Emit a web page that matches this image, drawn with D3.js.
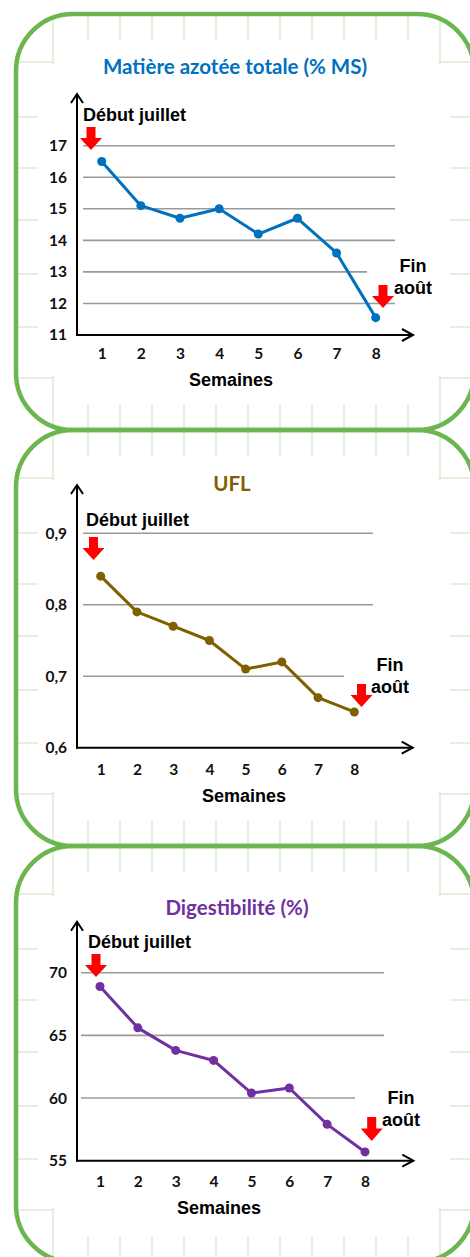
<!DOCTYPE html>
<html>
<head>
<meta charset="utf-8">
<script src="https://cdn.jsdelivr.net/npm/d3@7"></script>
<style>
  html, body { margin: 0; padding: 0; background: #fff; }
  svg { display: block; }
</style>
</head>
<body>
<div id="chart"></div>
<script>
// Data
var weeks = [1, 2, 3, 4, 5, 6, 7, 8];
var matiereValues = [16.5, 15.1, 14.7, 15.0, 14.2, 14.7, 13.6, 11.55];
var uflValues = [0.84, 0.79, 0.77, 0.75, 0.71, 0.72, 0.67, 0.65];
var digestValues = [68.9, 65.6, 63.8, 63.0, 60.4, 60.8, 57.9, 55.7];
var matiereTicks = [11, 12, 13, 14, 15, 16, 17];
var uflTicks = [0.6, 0.7, 0.8, 0.9];
var digestTicks = [55, 60, 65, 70];
var titles = ["Matière azotée totale (% MS)", "UFL", "Digestibilité (%)"];
var startLabel = "Début juillet";
var endLabel = ["Fin", "août"];
var xLabel = "Semaines";

var W = 470, H = 1257;
var frFormat = d3.formatLocale({ decimal: ",", thousands: " ", grouping: [3], currency: ["", "€"] });

// layout for each panel
var charts = [
  { title: titles[0], color: "#0070C0", values: matiereValues, ticks: matiereTicks, fmt: d3.format("d"),
    top: 14, yDomain: [11, 17], yRange: [335, 145.7], xRange: [101.7, 375.7], arrowTop: 94,
    gridStart: 83, gridEnd: 395, shortTick: 13, shortEnd: 367, axisEnd: 413,
    tickY: 354, semX: 231, semY: 380, titleX: 235, titleY: 67,
    debutX: 83, debutY: 115, a1: [91, 127, 150], finX: 413, finY: 266, a2: [383, 285, 308] },
  { title: titles[1], color: "#7F6000", values: uflValues, ticks: uflTicks, fmt: frFormat.format(".1f"),
    top: 430, yDomain: [0.6, 0.9], yRange: [747.7, 533.3], xRange: [100.7, 354.3], arrowTop: 485,
    gridStart: 83, gridEnd: 373, shortTick: 0.7, shortEnd: 344, axisEnd: 412.7,
    tickY: 770, semX: 244, semY: 796, titleX: 232, titleY: 484,
    debutX: 86, debutY: 520, a1: [93.5, 537, 560], finX: 390, finY: 665, a2: [361.5, 684, 707] },
  { title: titles[2], color: "#7030A0", values: digestValues, ticks: digestTicks, fmt: d3.format("d"),
    top: 846, yDomain: [55, 70], yRange: [1160.7, 972.7], xRange: [100, 365], arrowTop: 921.7,
    gridStart: 81, gridEnd: 384, shortTick: 60, shortEnd: 355, axisEnd: 413.3,
    tickY: 1181.7, semX: 219, semY: 1208, titleX: 237, titleY: 908,
    debutX: 88, debutY: 942, a1: [96, 954, 977], finX: 401, finY: 1098, a2: [371.7, 1117, 1141] }
];

var panelX = 16, panelW = 458, panelH = 416, panelR = 57;
var yAxisX = 77;

var svg = d3.select("#chart").append("svg")
  .attr("width", W).attr("height", H);

// clip for the background grid: union of the panels
var clip = svg.append("defs").append("clipPath").attr("id", "panels");
charts.forEach(function (c) {
  clip.append("rect").attr("x", panelX).attr("y", c.top)
    .attr("width", panelW).attr("height", panelH).attr("rx", panelR);
});

// light green graph-paper background
var bg = svg.append("g").attr("clip-path", "url(#panels)")
  .attr("stroke", "#E3F0DB").attr("stroke-width", 2);
var gridXs = [53, 88, 120, 152, 184, 216, 248, 280, 312, 344, 376, 408, 440];
gridXs.forEach(function (gx) {
  bg.append("line").attr("x1", gx).attr("x2", gx).attr("y1", 0).attr("y2", H);
});
var rowOffsets = [48, 103, 154, 206, 260, 313, 364];
charts.forEach(function (c) {
  rowOffsets.forEach(function (o) {
    bg.append("line").attr("x1", 0).attr("x2", W).attr("y1", c.top + o).attr("y2", c.top + o);
  });
});

// white inner area of each panel
charts.forEach(function (c) {
  svg.append("rect").attr("x", 55).attr("y", c.top + 26).attr("width", 383).attr("height", 365).attr("fill", "#fff");
  svg.append("rect").attr("x", 38).attr("y", c.top + 50).attr("width", 412).attr("height", 312).attr("fill", "#fff");
});

// green borders
charts.forEach(function (c) {
  svg.append("rect").attr("x", panelX).attr("y", c.top)
    .attr("width", panelW).attr("height", panelH).attr("rx", panelR)
    .attr("fill", "none").attr("stroke", "#6CB651").attr("stroke-width", 4.5);
});

function redArrow(g, a) {
  var cx = a[0], t = a[1], b = a[2];
  var sh = t + (b - t) * 0.48;
  var pts = [[cx - 4.5, t], [cx + 4.5, t], [cx + 4.5, sh], [cx + 11, sh], [cx, b], [cx - 11, sh], [cx - 4.5, sh]];
  g.append("path").attr("d", d3.line()(pts) + "Z").attr("fill", "#FF0000");
}

charts.forEach(function (c) {
  var g = svg.append("g");
  var x = d3.scaleLinear().domain([1, 8]).range(c.xRange);
  var y = d3.scaleLinear().domain(c.yDomain).range(c.yRange);
  var axisY = y(c.yDomain[0]);

  // horizontal gridlines
  g.selectAll(".grid").data(c.ticks.slice(1)).enter().append("line")
    .attr("x1", c.gridStart)
    .attr("x2", function (d) { return Math.abs(d - c.shortTick) < 1e-9 ? c.shortEnd : c.gridEnd; })
    .attr("y1", function (d) { return y(d); })
    .attr("y2", function (d) { return y(d); })
    .attr("stroke", "#9A9A9A").attr("stroke-width", 1.6);

  // title
  g.append("text").attr("x", c.titleX).attr("y", c.titleY).attr("dy", "0.35em")
    .attr("text-anchor", "middle").attr("fill", c.color)
    .style("font-family", "Lato, 'Open Sans', sans-serif").style("font-weight", "bold").style("font-size", "20.5px")
    .text(c.title);

  // y tick labels
  var ya = g.append("g").attr("transform", "translate(67,0)")
    .call(d3.axisLeft(y).tickValues(c.ticks).tickFormat(c.fmt).tickSize(0).tickPadding(0));
  ya.select(".domain").remove();
  ya.selectAll("text").attr("fill", "#111")
    .style("font-family", "Lato, 'Open Sans', sans-serif").style("font-weight", "bold").style("font-size", "15.5px");

  // x tick labels
  var xa = g.append("g").attr("transform", "translate(0," + c.tickY + ")")
    .call(d3.axisBottom(x).tickValues(weeks).tickFormat(d3.format("d")).tickSize(0).tickPadding(0));
  xa.select(".domain").remove();
  xa.selectAll("text").attr("y", 0).attr("dy", "0.35em").attr("fill", "#111")
    .style("font-family", "Lato, 'Open Sans', sans-serif").style("font-weight", "bold").style("font-size", "15.5px");

  // axes with arrow heads
  var ax = g.append("g").attr("stroke", "#000").attr("stroke-width", 2).attr("fill", "none");
  ax.append("path").attr("d", d3.line()([[yAxisX, axisY + 1], [yAxisX, c.arrowTop]]));
  ax.append("path").attr("d", d3.line()([[yAxisX - 6, c.arrowTop + 9], [yAxisX, c.arrowTop], [yAxisX + 6, c.arrowTop + 9]]));
  ax.append("path").attr("d", d3.line()([[yAxisX - 1, axisY], [c.axisEnd, axisY]]));
  ax.append("path").attr("d", d3.line()([[c.axisEnd - 11, axisY - 6], [c.axisEnd, axisY], [c.axisEnd - 11, axisY + 6]]));

  // series
  var line = d3.line().x(function (d, i) { return x(weeks[i]); }).y(function (d) { return y(d); });
  g.append("path").datum(c.values).attr("d", line)
    .attr("fill", "none").attr("stroke", c.color).attr("stroke-width", 3).attr("stroke-linejoin", "round");
  g.selectAll(".pt").data(c.values).enter().append("circle")
    .attr("cx", function (d, i) { return x(weeks[i]); })
    .attr("cy", function (d) { return y(d); })
    .attr("r", 4.5).attr("fill", c.color);

  // annotations
  var lab = "'Liberation Sans', Arial, sans-serif";
  g.append("text").attr("x", c.debutX).attr("y", c.debutY).attr("dy", "0.35em")
    .style("font-family", lab).style("font-weight", "bold").style("font-size", "18px").attr("fill", "#000")
    .text(startLabel);
  redArrow(g, c.a1);
  g.append("text").attr("x", c.finX).attr("y", c.finY).attr("dy", "0.35em").attr("text-anchor", "middle")
    .style("font-family", lab).style("font-weight", "bold").style("font-size", "18px").attr("fill", "#000")
    .text(endLabel[0]);
  g.append("text").attr("x", c.finX).attr("y", c.finY + 22).attr("dy", "0.35em").attr("text-anchor", "middle")
    .style("font-family", lab).style("font-weight", "bold").style("font-size", "18px").attr("fill", "#000")
    .text(endLabel[1]);
  redArrow(g, c.a2);

  g.append("text").attr("x", c.semX).attr("y", c.semY).attr("dy", "0.35em").attr("text-anchor", "middle")
    .style("font-family", lab).style("font-weight", "bold").style("font-size", "18px").attr("fill", "#000")
    .text(xLabel);
});
</script>
</body>
</html>
